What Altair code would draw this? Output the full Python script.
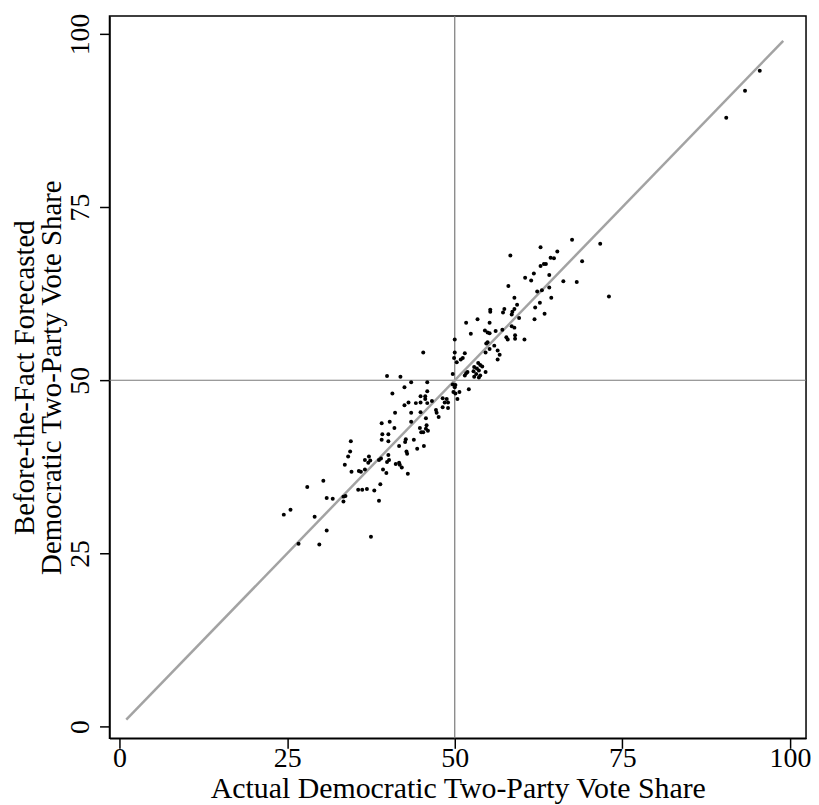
import altair as alt
import pandas as pd

# Actual (x) vs forecasted (y) Democratic two-party vote share
actual = [
    95.5, 93.3, 90.5,
    71.7, 69.0, 68.2, 73.0,
    67.5, 62.8, 65.3, 64.3, 64.8, 63.3, 63.6, 62.8, 61.8, 64.1, 66.2, 64.1, 62.3, 63.0, 64.4, 62.7, 62.0, 63.4, 61.9,
    58.3,
    60.5, 61.4, 58.0, 58.9, 59.3, 57.4, 58.9, 55.3, 55.3, 57.2, 58.6, 58.5, 53.4, 59.6, 55.2, 58.5, 58.9, 54.5, 54.9,
    55.2, 56.1, 57.1, 57.7, 57.9, 59.0, 59.0, 60.4, 54.9, 54.7, 55.9, 55.2, 56.4, 56.7, 54.6, 56.4,
    53.5, 53.8, 54.1, 52.9, 53.3, 53.6, 52.8, 54.6, 53.2, 53.8, 52.9, 53.6,
    51.7, 52.4, 50.0, 50.0, 49.9, 51.5, 51.2, 50.9, 50.3, 45.3, 51.9, 51.5, 51.7, 49.7, 45.9, 49.7, 50.1, 50.0, 52.1,
    45.9, 50.7, 49.8, 50.1, 50.4, 45.6, 45.6, 48.2, 48.8, 49.0, 48.5, 46.6, 45.9, 48.2, 49.0, 47.2, 47.3, 47.6, 45.7,
    45.8, 45.7, 46.0, 45.3, 45.4,
    39.9, 41.9, 43.5, 42.5, 40.7, 44.9, 43.1, 42.5, 44.2, 44.9, 43.5, 44.9, 41.1, 39.1, 40.3, 43.5, 41.0, 44.8, 45.0,
    39.2, 40.1, 39.1, 40.1, 42.7, 42.6, 43.9, 41.7, 44.4, 42.8, 42.9, 37.2, 36.6, 37.4, 37.1, 38.7, 39.0, 40.1, 40.2,
    39.9, 41.2, 41.7, 41.8, 42.1, 43.0, 39.3, 39.8, 36.6, 38.9,
    34.5, 34.4, 34.1, 33.6, 34.6, 35.7, 36.0, 28.0, 30.4, 30.9, 31.8, 33.4, 33.7, 33.4, 35.6, 36.2, 36.9, 38.0, 38.7,
    24.5, 25.5, 29.1, 30.9, 29.8, 26.7, 37.5,
]
forecast = [
    94.7, 91.8, 87.9,
    69.7, 67.2, 64.2, 62.1,
    70.3, 69.2, 68.6, 67.7, 67.6, 66.8, 66.8, 66.5, 65.4, 65.2, 64.3, 63.4, 62.8, 63.0, 61.9, 61.2, 60.5, 59.6, 58.8,
    68.0,
    64.8, 64.4, 63.6, 61.9, 60.9, 60.3, 60.3, 60.2, 59.9, 59.8, 59.9, 59.5, 58.8, 59.0, 58.3, 57.8, 57.6, 57.2, 56.9,
    56.8, 57.1, 57.3, 56.2, 55.9, 56.5, 56.0, 55.9, 55.5, 55.3, 55.0, 54.5, 54.3, 53.7, 54.0, 53.0,
    52.5, 52.2, 52.0, 51.9, 51.7, 51.4, 51.3, 51.2, 50.9, 50.7, 50.5, 50.4,
    58.3, 56.7, 55.9, 54.0, 53.2, 53.9, 53.2, 53.0, 52.6, 54.0, 51.2, 50.7, 51.0, 50.9, 49.7, 49.4, 49.3, 49.0, 48.7,
    48.4, 48.3, 48.3, 48.1, 47.3, 47.7, 47.3, 47.4, 47.3, 46.8, 46.8, 47.0, 46.7, 46.1, 46.0, 45.7, 45.3, 44.7, 44.5,
    43.5, 43.0, 42.7, 42.5, 40.5,
    50.6, 50.5, 49.7, 49.0, 48.1, 47.7, 46.8, 46.4, 46.7, 46.8, 45.3, 45.4, 45.3, 43.8, 44.0, 44.0, 43.1, 43.1, 42.5,
    42.2, 42.2, 41.4, 41.2, 41.5, 41.1, 41.4, 40.5, 40.1, 39.7, 39.4, 39.0, 38.5, 38.4, 38.1, 38.5, 38.7, 39.2, 38.5,
    38.2, 37.9, 38.1, 37.8, 37.4, 36.5, 37.1, 36.6, 37.1, 35.0,
    41.2, 39.7, 39.0, 37.8, 36.8, 36.9, 36.8, 34.6, 35.5, 33.0, 32.9, 33.2, 33.3, 32.5, 34.2, 34.2, 34.3, 34.1, 32.6,
    30.6, 31.3, 30.3, 28.3, 26.3, 26.4, 27.4,
]

diag_ends = [1, 99]
ref_value = [50]
ticks = [0, 25, 50, 75, 100]

x_title = "Actual Democratic Two-Party Vote Share"
y_title = ["Before-the-Fact Forecasted", "Democratic Two-Party Vote Share"]

pts_df = pd.DataFrame({"actual": actual, "forecast": forecast})
diag_df = pd.DataFrame({"actual": diag_ends, "forecast": diag_ends})
ref_df = pd.DataFrame({"v": ref_value})

FONT = "Liberation Serif"
xscale = alt.Scale(domain=[-1.5, 102.4], nice=False, zero=False)
yscale = alt.Scale(domain=[-1.7, 102.6], nice=False, zero=False)

xaxis = alt.Axis(values=ticks, title=x_title, grid=False, tickSize=10, labelPadding=-4,
                 titlePadding=1, titleFontSize=30)
yaxis = alt.Axis(values=ticks, title=y_title, grid=False, tickSize=10, labelAngle=270,
                 labelAlign="center", labelBaseline="bottom", labelPadding=5,
                 titlePadding=0, titleLineHeight=27, titleFontSize=29)

vline = alt.Chart(ref_df).mark_rule(color="#7a7a7a", strokeWidth=1.2).encode(
    x=alt.X("v:Q", scale=xscale, axis=xaxis))
hline = alt.Chart(ref_df).mark_rule(color="#7a7a7a", strokeWidth=1.2).encode(
    y=alt.Y("v:Q", scale=yscale, axis=yaxis))
diag = alt.Chart(diag_df).mark_line(color="#a3a3a3", strokeWidth=2.5).encode(
    x=alt.X("actual:Q", scale=xscale, axis=xaxis),
    y=alt.Y("forecast:Q", scale=yscale, axis=yaxis))
pts = alt.Chart(pts_df).mark_circle(color="black", size=16, opacity=1).encode(
    x=alt.X("actual:Q", scale=xscale, axis=xaxis),
    y=alt.Y("forecast:Q", scale=yscale, axis=yaxis))

chart = alt.layer(vline, hline, diag, pts).properties(
    width=700, height=726,
    autosize=alt.AutoSizeParams(type="none"),
    padding={"left": 102, "top": 6, "right": 5, "bottom": 66},
    background="white",
).configure_view(stroke="black", strokeWidth=1.5).configure_axis(
    labelFont=FONT, titleFont=FONT, labelFontSize=28,
    titleFontWeight="normal", labelColor="black", titleColor="black",
    domainColor="black", tickColor="black", domainWidth=1.5, tickWidth=1.5,
)

chart.save("out.html", embed_options={"renderer": "svg", "actions": False})
